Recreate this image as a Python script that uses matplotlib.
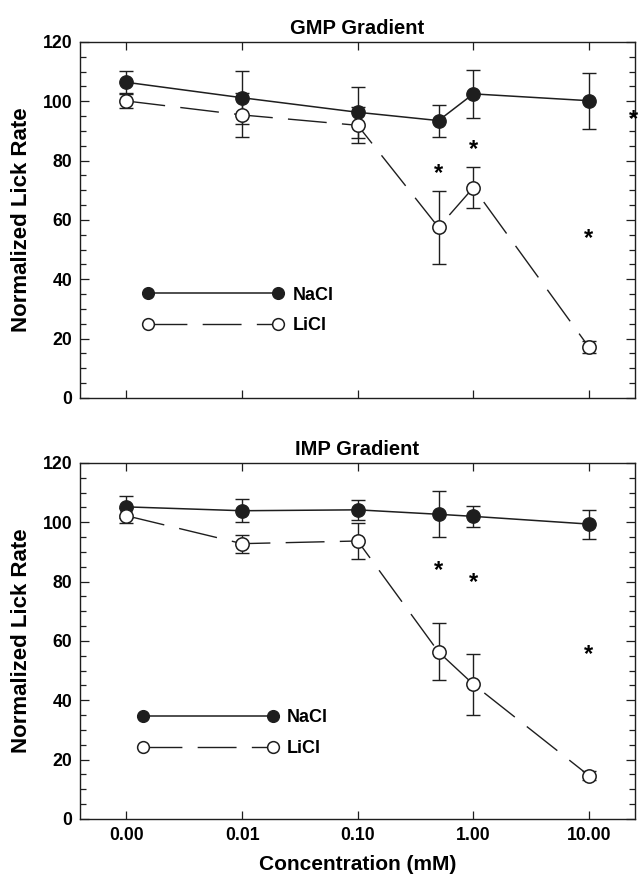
import matplotlib.pyplot as plt
from matplotlib.ticker import FixedLocator, MultipleLocator

plt.rcParams['font.family'] = ['Liberation Sans', 'DejaVu Sans']
plt.rcParams['font.weight'] = 'bold'
plt.rcParams['axes.titleweight'] = 'bold'
plt.rcParams['axes.labelweight'] = 'bold'

# concentration in mM, 0 drawn at 0.001 on the log axis
conc = [0.001, 0.01, 0.1, 0.5, 1.0, 10.0]
tick_pos = [0.001, 0.01, 0.1, 1.0, 10.0]
tick_labels = ['0.00', '0.01', '0.10', '1.00', '10.00']

gmp_nacl = [106.4, 101.2, 96.3, 93.5, 102.5, 100.2]
gmp_nacl_err = [3.7, 8.9, 8.6, 5.4, 8.2, 9.5]
gmp_licl = [100.1, 95.4, 91.9, 57.5, 70.9, 17.1]
gmp_licl_err = [2.2, 7.3, 6.1, 12.2, 6.8, 2.0]
gmp_star_x = [0.5, 1.0, 10.0, 24.5]
gmp_star_y = [77.6, 85.6, 55.8, 96.0]

imp_nacl = [105.2, 103.9, 104.2, 102.7, 102.0, 99.4]
imp_nacl_err = [3.8, 3.8, 3.4, 7.7, 3.6, 4.9]
imp_licl = [102.2, 92.8, 93.7, 56.3, 45.4, 14.6]
imp_licl_err = [2.5, 3.0, 6.1, 9.6, 10.3, 1.6]
imp_star_x = [0.5, 1.0, 10.0]
imp_star_y = [85.7, 81.8, 57.6]

ink = '#1e1e1e'
dash = (0, (28, 11))

fig = plt.figure(figsize=(6.39, 8.76), dpi=100)
ax1 = fig.add_axes([0.1252, 0.5457, 0.8685, 0.4064])
ax2 = fig.add_axes([0.1252, 0.0651, 0.8685, 0.4064])

panels = [
    (ax1, 'GMP Gradient', gmp_nacl, gmp_nacl_err, gmp_licl, gmp_licl_err,
     gmp_star_x, gmp_star_y, (0.1135, 0.246)),
    (ax2, 'IMP Gradient', imp_nacl, imp_nacl_err, imp_licl, imp_licl_err,
     imp_star_x, imp_star_y, (0.1038, 0.241)),
]

for ax, title, nacl, nacl_err, licl, licl_err, sx, sy, leg_at in panels:
    ax.errorbar(conc, nacl, yerr=nacl_err, fmt='none', ecolor=ink,
                elinewidth=1.0, capsize=4.7, capthick=1.0, zorder=2)
    ax.errorbar(conc, licl, yerr=licl_err, fmt='none', ecolor=ink,
                elinewidth=1.0, capsize=4.7, capthick=1.0, zorder=2)
    ax.plot(conc, nacl, color=ink, lw=1.1, marker='o', ms=9.6,
            mfc=ink, mec=ink, label='NaCl', zorder=3)
    ax.plot(conc, licl, color=ink, lw=1.0, ls=dash, marker='o', ms=9.6,
            mfc='white', mec=ink, mew=1.1, label='LiCl', zorder=4)
    for x, y in zip(sx, sy):
        ax.annotate('*', (x, y), xytext=(0, -9), textcoords='offset points',
                    ha='center', va='baseline', fontsize=17,
                    annotation_clip=False, color='black')

    ax.set_xscale('log')
    ax.set_xlim(10 ** -3.402, 10 ** 1.398)
    ax.set_ylim(0, 120)
    ax.xaxis.set_major_locator(FixedLocator(tick_pos))
    ax.xaxis.set_minor_locator(FixedLocator([]))
    ax.yaxis.set_major_locator(MultipleLocator(20))
    ax.yaxis.set_minor_locator(MultipleLocator(5))
    ax.set_xticklabels(tick_labels)
    ax.tick_params(axis='both', which='both', direction='in', top=True,
                   right=True, color=ink, width=0.9, labelsize=12.7, pad=5.5)
    ax.tick_params(axis='x', which='major', length=6)
    ax.tick_params(axis='y', which='major', length=6.5)
    ax.tick_params(axis='y', which='minor', length=4.3)
    for s in ax.spines.values():
        s.set_color(ink)
        s.set_linewidth(1.0)

    ax.set_title(title, fontsize=14.5, pad=6)
    ax.set_ylabel('Normalized Lick Rate', fontsize=16, labelpad=8)
    ax.legend(loc='center left', bbox_to_anchor=leg_at, frameon=False,
              numpoints=2, handlelength=7.8, handletextpad=0.48,
              labelspacing=0.75, borderpad=0, borderaxespad=0,
              markerscale=0.88, fontsize=13)

ax1.tick_params(axis='x', labelbottom=False)
ax2.set_xlabel('Concentration (mM)', fontsize=15, labelpad=8)

fig.savefig('out.png', dpi=100)
